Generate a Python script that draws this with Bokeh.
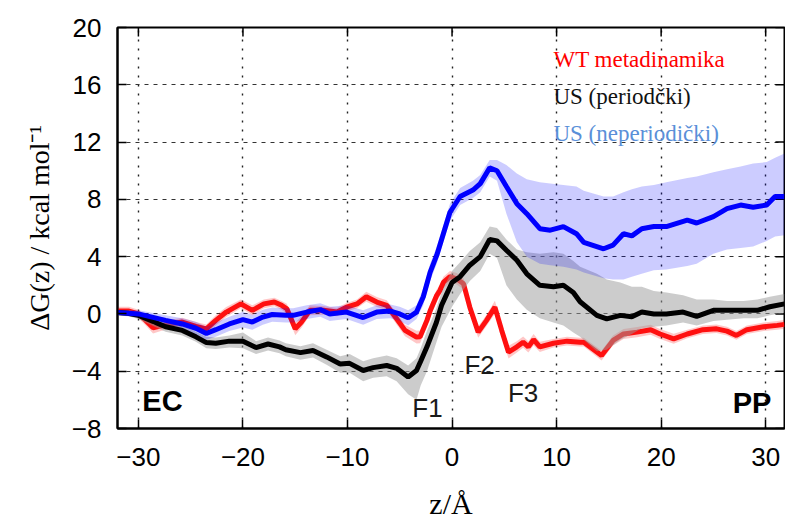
from bokeh.plotting import figure
from bokeh.models import Label, FixedTicker
from bokeh.embed import file_html
from bokeh.resources import INLINE

# ---------------- data ----------------
# WT metadinamika (red)
wt_z = [-32.0, -30.9, -30.0, -29.3, -28.6, -28.0, -27.0, -25.8, -24.5, -23.5, -22.6, -21.6,
        -20.2, -19.1, -18.0, -17.0, -16.3, -15.8, -15.0, -14.4, -13.6, -12.3, -11.0, -10.1,
        -9.1, -8.2, -7.2, -6.25, -5.3, -4.5, -3.4, -3.06, -2.4, -2.1, -1.46, -1.15, -0.83,
        -0.2, 0.45, 1.1, 1.7, 2.5, 3.3, 4.1, 4.75, 5.4, 6.2, 6.8, 7.3, 7.8, 8.4, 9.7, 11.0,
        12.25, 12.6, 14.3, 15.4, 16.4, 17.7, 19.0, 19.9, 21.2, 22.5, 24.0, 25.3, 26.3, 27.2,
        28.2, 29.8, 31.1, 31.8]
wt_g = [0.2, 0.2, 0.0, -0.45, -0.97, -0.87, -0.7, -0.57, -0.87, -1.04, -0.45, 0.13,
        0.7, 0.25, 0.7, 0.83, 0.6, 0.36, -1.04, -0.57, 0.25, 0.25, 0.13, 0.47,
        0.7, 1.2, 0.83, 0.6, -0.34, -1.15, -1.62, -1.6, -0.45, 0.2, 1.3, 1.65, 2.2,
        2.6, 2.45, 2.1, 0.47, -1.27, -0.45, 0.47, -1.15, -2.67, -2.3, -1.97, -2.3, -1.8,
        -2.3, -2.05, -1.9, -1.97, -1.97, -2.9, -1.85, -1.4, -1.27, -1.1, -1.4, -1.74, -1.4,
        -1.1, -1.04, -1.2, -1.5, -1.1, -0.9, -0.8, -0.73]
wt_err = [0.3, 0.3, 0.3, 0.35, 0.4, 0.35, 0.3, 0.3, 0.3, 0.3, 0.35, 0.35,
          0.3, 0.35, 0.3, 0.3, 0.3, 0.35, 0.45, 0.4, 0.35, 0.3, 0.3, 0.3,
          0.3, 0.35, 0.35, 0.35, 0.4, 0.4, 0.45, 0.45, 0.45, 0.45, 0.4, 0.4, 0.4,
          0.4, 0.4, 0.4, 0.4, 0.4, 0.4, 0.45, 0.45, 0.45, 0.4, 0.4, 0.4, 0.4,
          0.35, 0.3, 0.3, 0.3, 0.3, 0.35, 0.35, 0.35, 0.35, 0.35, 0.35, 0.35, 0.3,
          0.3, 0.3, 0.3, 0.3, 0.3, 0.3, 0.3, 0.3]

# US periodic (black)
usp_z = [-32.0, -31.0, -30.0, -29.0, -27.4, -25.8, -24.5, -23.5, -22.6, -21.3, -20.0, -18.75,
         -17.6, -16.5, -15.9, -14.5, -13.3, -12.0, -10.7, -9.8, -8.5, -7.55, -6.25, -5.3,
         -4.2, -3.4, -3.0, -2.4, -1.5, -1.0, -0.5, 0.0, 0.77, 1.7, 2.7, 3.6, 4.3, 5.2, 6.2,
         7.15, 8.4, 9.7, 10.65, 11.6, 12.25, 13.85, 14.8, 16.1, 17.2, 18.15, 19.3, 20.5,
         22.1, 23.4, 25.0, 26.3, 27.9, 29.2, 30.4, 31.8]
usp_g = [0.1, 0.05, -0.1, -0.4, -0.9, -1.15, -1.6, -2.0, -2.05, -1.9, -1.9, -2.35,
         -2.1, -2.3, -2.5, -2.7, -2.55, -3.0, -3.5, -3.45, -3.95, -3.75, -3.6, -3.8,
         -4.4, -3.95, -3.3, -2.3, -0.6, 0.6, 1.4, 2.2, 2.6, 3.4, 4.0, 5.2, 5.1, 4.45, 3.75,
         2.8, 2.0, 1.9, 2.0, 1.5, 0.85, -0.1, -0.35, -0.1, -0.2, 0.13, 0.0, 0.0,
         0.13, -0.17, 0.25, 0.25, 0.25, 0.25, 0.5, 0.7]
usp_lo = [-0.1, -0.15, -0.35, -0.7, -1.25, -1.5, -1.95, -2.4, -2.45, -2.35, -2.4, -2.8,
          -2.55, -2.75, -2.95, -3.2, -3.05, -3.55, -4.1, -4.1, -4.7, -4.45, -4.35, -4.7,
          -5.6, -6.0, -5.0, -4.0, -2.0, -0.9, -0.2, 0.5, 1.4, 2.3, 3.0, 4.2, 3.9, 2.0, 1.0,
          0.3, -0.3, -0.6, -0.8, -1.3, -1.6, -2.6, -2.5, -1.8, -1.4, -1.0, -0.9, -0.8,
          -0.6, -0.8, -0.5, -0.4, -0.3, -0.3, -0.1, 0.1]
usp_hi = [0.25, 0.25, 0.15, -0.1, -0.6, -0.8, -1.25, -1.6, -1.65, -1.5, -1.3, -1.9,
          -1.65, -1.85, -2.05, -2.25, -2.05, -2.5, -2.95, -2.8, -3.3, -3.1, -2.9, -3.1,
          -3.6, -3.1, -2.4, -1.2, 0.4, 1.5, 2.3, 3.0, 3.6, 4.4, 5.0, 6.1, 6.0, 5.2, 4.5,
          4.3, 4.2, 4.3, 4.2, 3.7, 3.3, 2.8, 2.4, 2.2, 1.9, 1.9, 1.6, 1.5,
          1.3, 1.0, 1.0, 0.9, 0.9, 1.0, 1.2, 1.4]

# US non-periodic (blue)
usn_z = [-32.0, -30.0, -27.4, -25.8, -24.5, -23.5, -22.6, -21.3, -20.0, -19.1, -18.1, -17.2,
         -15.9, -15.2, -13.9, -12.6, -11.7, -10.1, -8.5, -7.2, -5.9, -5.0, -4.2, -3.4,
         -2.75, -2.1, -1.46, -0.83, -0.2, 0.77, 2.0, 2.7, 3.6, 4.3, 5.2, 6.2, 7.15, 8.4,
         9.4, 10.65, 11.9, 12.6, 14.5, 15.4, 16.4, 17.2, 18.15, 19.3, 20.5, 22.5, 23.4,
         25.0, 26.3, 27.6, 28.8, 30.1, 30.9, 31.8]
usn_g = [0.1, 0.0, -0.45, -0.7, -1.0, -1.37, -1.1, -0.7, -0.4, -0.57, -0.22, -0.04,
         -0.1, -0.1, 0.13, 0.3, 0.0, 0.13, -0.25, 0.13, 0.2, 0.0, -0.27, 0.13,
         1.2, 2.9, 4.1, 5.6, 7.1, 8.2, 8.65, 9.1, 10.2, 10.0, 8.9, 7.7, 7.0, 5.95,
         5.85, 6.1, 5.6, 5.0, 4.55, 4.8, 5.6, 5.45, 5.95, 6.1, 6.1, 6.55, 6.35,
         6.8, 7.35, 7.6, 7.45, 7.6, 8.2, 8.2]
usn_lo = [-0.1, -0.25, -0.8, -1.1, -1.45, -1.8, -1.6, -1.2, -0.95, -1.1, -0.75, -0.55,
          -0.6, -0.6, -0.35, -0.2, -0.5, -0.35, -0.75, -0.35, -0.3, -0.5, -0.8, -0.35,
          0.6, 2.3, 3.5, 5.0, 6.5, 7.6, 8.1, 8.5, 9.6, 9.3, 7.0, 5.0, 4.0, 3.5,
          3.4, 3.3, 3.1, 2.9, 2.5, 2.4, 2.4, 2.6, 2.8, 3.05, 3.1, 3.35, 3.5,
          4.2, 4.5, 4.6, 4.7, 5.1, 5.4, 5.5]
usn_hi = [0.3, 0.25, -0.1, -0.3, -0.55, -0.9, -0.6, -0.2, 0.15, -0.05, 0.3, 0.45,
          0.4, 0.4, 0.6, 0.75, 0.5, 0.6, 0.25, 0.6, 0.65, 0.5, 0.25, 0.6,
          1.8, 3.5, 4.7, 6.2, 7.7, 8.8, 9.3, 9.7, 10.75, 10.75, 10.4, 9.8, 9.4, 9.2,
          9.1, 9.0, 8.9, 8.6, 8.2, 8.2, 8.5, 8.7, 8.9, 9.0, 9.2, 9.5, 9.6,
          9.9, 10.1, 10.3, 10.5, 10.6, 10.9, 11.2]

x_ticks = [-30, -20, -10, 0, 10, 20, 30]
x_tick_labels = ["\u221230", "\u221220", "\u221210", "0", "10", "20", "30"]
y_ticks = [-8, -4, 0, 4, 8, 12, 16, 20]
y_tick_labels = ["\u22128", "\u22124", "0", "4", "8", "12", "16", "20"]

series_names = ["WT metadinamika", "US (periodčki)", "US (neperiodički)"]
region_labels = ["EC", "PP"]
state_labels = ["F1", "F2", "F3"]

X_MIN, X_MAX = -32.0, 31.8
Y_MIN, Y_MAX = -8.0, 20.0

# ---------------- figure ----------------
p = figure(width=785, height=527, x_range=(X_MIN, X_MAX), y_range=(Y_MIN, Y_MAX),
           output_backend="svg", toolbar_location=None,
           min_border_left=117, min_border_right=1, min_border_top=27, min_border_bottom=99)
p.background_fill_color = "white"
p.border_fill_color = "white"
p.outline_line_color = "black"
p.outline_line_width = 2

SANS = "Liberation Sans"
SERIF = "Liberation Serif"

for ax, ticks, labels in ((p.xaxis[0], x_ticks, x_tick_labels), (p.yaxis[0], y_ticks, y_tick_labels)):
    ax.ticker = FixedTicker(ticks=ticks)
    ax.major_label_overrides = {t: l for t, l in zip(ticks, labels)}
    ax.major_tick_in = 9
    ax.major_tick_out = 0
    ax.minor_tick_line_color = None
    ax.major_tick_line_width = 1.5
    ax.axis_line_width = 2
    ax.major_label_text_font = SANS
    ax.major_label_text_font_size = "26px"
    ax.major_label_text_color = "black"
    ax.axis_label_text_font = SERIF
    ax.axis_label_text_font_style = "normal"
    ax.axis_label_text_color = "black"

p.xaxis[0].major_label_standoff = 19
p.xaxis[0].axis_label = "z/Å"
p.xaxis[0].axis_label_text_font_size = "30px"
p.xaxis[0].axis_label_standoff = 18
p.yaxis[0].major_label_standoff = 16
p.yaxis[0].axis_label = "ΔG(z) / kcal mol⁻¹"
p.yaxis[0].axis_label_text_font_size = "28px"
p.yaxis[0].axis_label_standoff = 14

p.xgrid.ticker = FixedTicker(ticks=x_ticks)
p.ygrid.ticker = FixedTicker(ticks=y_ticks)
p.xgrid.grid_line_color = "#222222"
p.xgrid.grid_line_dash = "2 7"
p.xgrid.grid_line_width = 1.4
p.ygrid.grid_line_color = "#333333"
p.ygrid.grid_line_dash = "4 5"
p.ygrid.grid_line_width = 1.2

# mirrored inward ticks on the top and right frame edges (from the tick arrays)
tick_dy = 0.63
tick_dx = 0.87
p.segment(x0=x_ticks, y0=[Y_MAX] * len(x_ticks), x1=x_ticks, y1=[Y_MAX - tick_dy] * len(x_ticks),
          line_color="black", line_width=1.5)
p.segment(x0=[X_MAX] * len(y_ticks), y0=y_ticks, x1=[X_MAX - tick_dx] * len(y_ticks), y1=y_ticks,
          line_color="black", line_width=1.5)

# ---------------- bands and lines ----------------
wt_lo = [g - e for g, e in zip(wt_g, wt_err)]
wt_hi = [g + e for g, e in zip(wt_g, wt_err)]

p.varea(x=wt_z, y1=wt_lo, y2=wt_hi, fill_color="#ff0000", fill_alpha=0.22)
p.line(wt_z, wt_g, line_color="#ff1010", line_width=5)
p.varea(x=usp_z, y1=usp_lo, y2=usp_hi, fill_color="#9a9a9a", fill_alpha=0.5)
p.varea(x=usn_z, y1=usn_lo, y2=usn_hi, fill_color="#0000ff", fill_alpha=0.2)
p.line(usp_z, usp_g, line_color="black", line_width=5)
p.line(usn_z, usn_g, line_color="#0000ff", line_width=5)

# ---------------- legend texts ----------------
legend_colors = ["#ff0000", "#111111", "#5a8fd8"]
legend_y = [17.8, 15.2, 12.6]
for name, col, yy in zip(series_names, legend_colors, legend_y):
    p.add_layout(Label(x=9.7, y=yy, text=name, text_color=col, text_font=SERIF,
                       text_font_size="23px", text_align="left", text_baseline="middle"))

# ---------------- annotations ----------------
for txt, xx, yy in zip(region_labels, [-27.7, 28.7], [-6.1, -6.2]):
    p.add_layout(Label(x=xx, y=yy, text=txt, text_font=SANS, text_font_style="bold",
                       text_font_size="29px", text_color="black",
                       text_align="center", text_baseline="middle"))
for txt, xx, yy in zip(state_labels, [-2.35, 2.64, 6.8], [-6.6, -3.6, -5.5]):
    p.add_layout(Label(x=xx, y=yy, text=txt, text_font=SANS,
                       text_font_size="26px", text_color="#1a1a1a",
                       text_align="center", text_baseline="middle"))

open("out.html", "w").write(file_html(p, INLINE))
